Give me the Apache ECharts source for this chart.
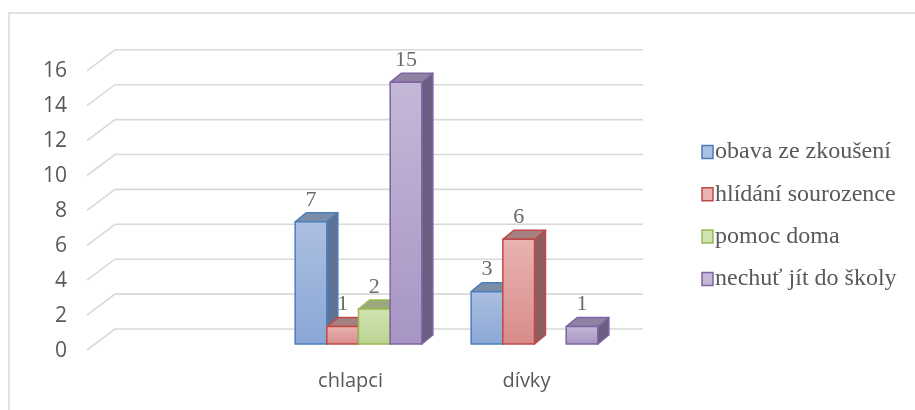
<!DOCTYPE html>
<html>
<head>
<meta charset="utf-8">
<script src="https://cdn.jsdelivr.net/npm/echarts@6/dist/echarts.min.js"></script>
<style>
  html, body { margin: 0; padding: 0; background: #fff; }
  #chart { width: 915px; height: 410px; }
</style>
</head>
<body>
<div id="chart"></div>
<script>
// data (first category is blank in the source chart)
const categories = ['', 'chlapci', 'dívky'];
const seriesNames = ['obava ze zkoušení', 'hlídání sourozence', 'pomoc doma', 'nechuť jít do školy'];
const obavaZeZkouseni = [null, 7, 3];
const hlidaniSourozence = [null, 1, 6];
const pomocDoma = [null, 2, null];
const nechutJitDoSkoly = [null, 15, 1];
const yTicks = [0, 2, 4, 6, 8, 10, 12, 14, 16];

const seriesValues = [obavaZeZkouseni, hlidaniSourozence, pomocDoma, nechutJitDoSkoly];

// face colours: front gradient, outline, top face, side face
const palettes = [
  { light: '#abbfe1', dark: '#8ba7d5', edge: '#4a7ebb', top: '#7b8ca8', side: '#5e7296' },
  { light: '#e8b3b2', dark: '#d88c8a', edge: '#be4b48', top: '#a58080', side: '#8d5e5d' },
  { light: '#d1e3b1', dark: '#bad392', edge: '#98b954', top: '#9aa87c', side: '#7a8b5b' },
  { light: '#c4b8d7', dark: '#a795c4', edge: '#7f63a2', top: '#8f82a2', side: '#6c5e82' }
];

const DX = 11, DY = 9; // bar depth
const LABEL_FONT = '22px "Liberation Serif", serif';
const LEGEND_FONT = '24px "Liberation Serif", serif';

const chart = echarts.init(document.getElementById('chart'));

const makeBarSeries = (idx) => {
  const pal = palettes[idx];
  const data = [];
  seriesValues[idx].forEach((v, i) => { if (v != null) data.push([i, v]); });
  return {
    name: seriesNames[idx],
    type: 'custom',
    xAxisIndex: 0,
    yAxisIndex: 0,
    itemStyle: { color: pal.light, borderColor: pal.edge, borderWidth: 1.5 },
    encode: { x: 0, y: 1 },
    data: data,
    renderItem: (params, api) => {
      const band = api.size([1, 0])[0];
      const bw = band * 0.18;
      const base = api.coord([api.value(0), 0]);
      const top = api.coord([api.value(0), api.value(1)]);
      const x0 = base[0] - 2 * bw + idx * bw;
      const x1 = x0 + bw;
      const y0 = base[1];
      const yt = top[1];
      const line = { stroke: pal.edge, lineWidth: 1.5, lineJoin: 'round' };
      return {
        type: 'group',
        children: [
          {
            type: 'polygon',
            shape: { points: [[x1, yt], [x1 + DX, yt - DY], [x1 + DX, y0 - DY], [x1, y0]] },
            style: Object.assign({ fill: pal.side }, line)
          },
          {
            type: 'polygon',
            shape: { points: [[x0, yt], [x0 + DX, yt - DY], [x1 + DX, yt - DY], [x1, yt]] },
            style: Object.assign({ fill: pal.top }, line)
          },
          {
            type: 'rect',
            shape: { x: x0, y: yt, width: bw, height: y0 - yt },
            style: Object.assign({
              fill: new echarts.graphic.LinearGradient(0, 0, 0, 1, [
                { offset: 0, color: pal.light },
                { offset: 1, color: pal.dark }
              ])
            }, line)
          },
          {
            type: 'text',
            x: x0 + bw / 2,
            y: yt - 22,
            style: {
              text: String(api.value(1)),
              fill: '#6b6b6b',
              font: LABEL_FONT,
              align: 'center',
              verticalAlign: 'middle'
            }
          }
        ]
      };
    }
  };
};

// legend rows, serif text like the source
const legendRows = seriesNames.map((n, i) => ({
  type: 'group',
  x: 702,
  y: 152 + i * 42.3,
  silent: true,
  children: [
    {
      type: 'rect',
      shape: { x: 0, y: -6.5, width: 11, height: 13 },
      style: { fill: palettes[i].light, stroke: palettes[i].edge, lineWidth: 1.5 }
    },
    {
      type: 'text',
      x: 13,
      y: 0,
      style: { text: n, font: LEGEND_FONT, fill: '#595959', verticalAlign: 'middle' }
    }
  ]
}));

const option = {
  animation: false,
  graphic: [
    {
      type: 'rect',
      shape: { x: 9, y: 13, width: 1000, height: 1000 },
      style: { fill: 'none', stroke: '#d9d9d9', lineWidth: 1.5 },
      silent: true
    }
  ].concat(legendRows),
  grid: [
    // plane where the bars stand
    { left: 94.5, right: 292.5, top: 64.8, bottom: 66 },
    // front plane carrying the axis labels
    { left: 86.5, right: 300.5, top: 71, bottom: 59 }
  ],
  xAxis: [
    { type: 'category', gridIndex: 0, data: categories, show: false },
    {
      type: 'category', gridIndex: 1, data: categories,
      axisLine: { show: false }, axisTick: { show: false },
      axisLabel: { margin: 20, fontFamily: 'Open Sans', fontSize: 20, color: '#595959' }
    }
  ],
  yAxis: [
    { type: 'value', gridIndex: 0, min: 0, max: 16, interval: 2, show: false },
    {
      type: 'value', gridIndex: 1, min: 0, max: 16, interval: 2,
      axisLine: { show: false }, axisTick: { show: false }, splitLine: { show: false },
      axisLabel: { margin: 19.5, fontFamily: 'Open Sans', fontSize: 21, color: '#595959' }
    }
  ],
  series: [
    {
      type: 'custom',
      silent: true,
      xAxisIndex: 0,
      yAxisIndex: 0,
      encode: { x: 0, y: 1 },
      data: yTicks.map(v => [0, v]),
      renderItem: (params, api) => {
        const cs = params.coordSys;
        const y = api.coord([0, api.value(1)])[1];
        return {
          type: 'polyline',
          shape: { points: [[cs.x - 7.5, y + 6], [cs.x + 20.5, y - 15], [cs.x + cs.width + 20.5, y - 15]] },
          style: { fill: 'none', stroke: '#d9d9d9', lineWidth: 1.6 }
        };
      }
    },
    makeBarSeries(0),
    makeBarSeries(1),
    makeBarSeries(2),
    makeBarSeries(3)
  ]
};

chart.setOption(option);
</script>
</body>
</html>
